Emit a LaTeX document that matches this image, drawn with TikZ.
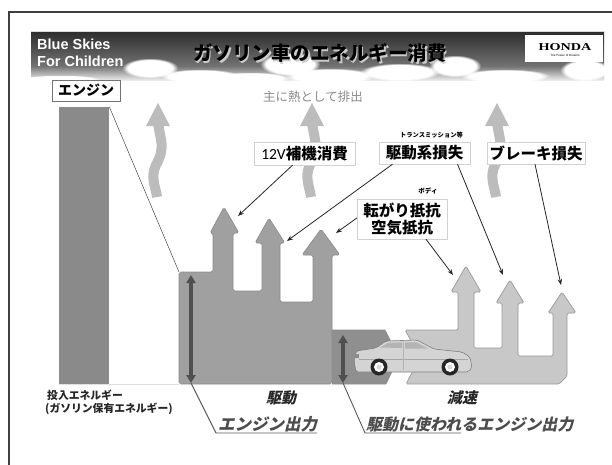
\documentclass[tikz,border=0pt]{standalone}
\usepackage{fontspec}
\setmainfont{Liberation Sans}
\newfontfamily\jp{Noto Sans CJK JP}
\newfontfamily\jpit[FakeSlant=0.22]{Noto Sans CJK JP}
\newfontfamily\lat{Carlito}
\newfontfamily\hondafont{Liberation Serif}
\usetikzlibrary{arrows.meta,calc,fadings}

\definecolor{hdrtop}{HTML}{2C2C2C}
\definecolor{hdrmid}{HTML}{727272}
\definecolor{enginec}{HTML}{8A8A8A}
\definecolor{drivec}{HTML}{A0A0A0}
\definecolor{driveln}{HTML}{8C8C8C}
\definecolor{drivex}{HTML}{8F8F8F}
\definecolor{decel}{HTML}{C8C8C8}
\definecolor{decelln}{HTML}{999999}
\definecolor{heatc}{HTML}{BCBCBC}
\definecolor{carbody}{HTML}{D4D4D4}
\definecolor{carwin}{HTML}{B4B4B4}
\definecolor{dblc}{HTML}{505050}

\tikzset{
  lblbox/.style={draw=black!18, fill=white, inner sep=0pt,
    font=\jp\bfseries\fontsize{15.5pt}{18pt}\selectfont},
  leader/.style={-{Stealth[length=6pt,width=4.5pt]}, line width=0.8pt, black!85},
  dblarrow/.style={{Triangle[length=8pt,width=9pt]}-{Triangle[length=8pt,width=9pt]},
    line width=3.2pt, dblc},
  outline/.style={line width=0.9pt, black!65},
  cloud/.style={fill=white, path fading=circle with fuzzy edge 20 percent},
}

% wavy heat-exhaust arrow, tip at (#1,103)
\newcommand\heatup[1]{%
  \begin{scope}[shift={(#1,0)}]
    \draw[heatc, line width=10pt] (0,122) .. controls (2,140) and (8,147) .. (-2,165)
      .. controls (-8,177) and (-2,188) .. (-1,197);
    \fill[heatc] (-12,126) -- (0,103) -- (12,126) -- cycle;
  \end{scope}}

\begin{document}
\begin{tikzpicture}[x=1pt,y=-1pt]
\useasboundingbox (0,0) rectangle (612,464);
\fill[white] (0,0) rectangle (612,464);

% frame
\draw[line width=1.3pt, black!75] (9,470) -- (9,12) -- (620,12);

% header band with sky
\shade[top color=hdrtop, bottom color=hdrmid] (31,31) rectangle (604,66);
\shade[top color=hdrmid, bottom color=white!92!black] (31,66) rectangle (604,80);
\foreach \cx/\cy/\rx/\ry in {150/68/28/10, 200/76/40/7, 290/64/30/12, 330/76/45/8,
    400/72/40/9, 455/66/26/11, 505/76/45/7, 585/70/25/11, 250/78/40/6, 60/79/40/4}
  \fill[cloud] (\cx,\cy) ellipse [x radius=\rx, y radius=\ry];
\draw[white!85!black, line width=0.8pt] (31,31) -- (604,31);

\node[anchor=west, text=white, font=\bfseries\fontsize{14.5pt}{15pt}\selectfont, inner sep=0]
  (bs1) at (37,44.5) {Blue Skies};
\node[anchor=west, text=white, font=\bfseries\fontsize{14.5pt}{15pt}\selectfont, inner sep=0]
  (bs2) at (37,61.5) {For Children};

\node[text=white!80!black, font=\jp\bfseries\fontsize{19.5pt}{21pt}\selectfont]
  (ttlsh) at (321.5,54.5) {ガソリン車のエネルギー消費};
\node[text=black, font=\jp\bfseries\fontsize{19.5pt}{21pt}\selectfont]
  (ttl) at (320,53) {ガソリン車のエネルギー消費};

\node[fill=white, minimum width=78pt, minimum height=27pt, inner sep=0] (hbox) at (564,48.5) {};
\node[font=\hondafont\bfseries\fontsize{10.5pt}{11pt}\selectfont, inner sep=0]
  (honda) at (565,47.5) {\scalebox{1.35}[1]{HONDA}};
\node[font=\fontsize{3pt}{3.5pt}\selectfont, inner sep=0] (hsub) at (565,55.5) {The Power of Dreams};

% engine label and input-energy bar
\node[draw=black!55, fill=white, minimum width=68pt, minimum height=21pt, inner sep=0,
  font=\jp\bfseries\fontsize{14pt}{16pt}\selectfont] (engl) at (86,90.5) {エンジン};
\node[fill=enginec, minimum width=50pt, minimum height=277pt, inner sep=0, anchor=north west]
  (ebar) at (59,107) {};

% heat exhaust
\node[text=black!45, font=\jp\fontsize{12.5pt}{14pt}\selectfont] (heat) at (313,96.5) {主に熱として排出};
\heatup{158}
\heatup{312}
\heatup{497}

% drive flow
\coordinate (drivetl) at (179,272);
\filldraw[fill=drivec, draw=driveln, line width=0.6pt, rounded corners=1.8pt]
  (179,384) -- (drivetl) -- (213,272) -- (213,233) -- (210,233) -- (224,207) -- (239,233)
  -- (233,233) -- (233,291) -- (262,291) -- (262,243) -- (255,243) -- (269,218) -- (285,243)
  -- (280,243) -- (280,302) -- (313,302) -- (313,255) -- (302,255) -- (321,229) -- (340,255)
  -- (332,255) -- (332,384) -- cycle;
\fill[drivex] (332,330) -- (385,330) -- (399,357) -- (386,384) -- (332,384) -- cycle;
\draw[driveln, line width=0.6pt] (332,330) -- (385,330) -- (399,357) -- (386,384) -- (332,384);

% deceleration flow
\filldraw[fill=decel, draw=decelln, line width=0.7pt, rounded corners=1.5pt]
  (405,330) -- (458,330) -- (458,292) -- (451,292) -- (466,266) -- (481,292) -- (474,292)
  -- (474,348) -- (502,348) -- (502,303) -- (496,303) -- (510,280) -- (524,303) -- (518,303)
  -- (518,356) -- (553,356) -- (553,313) -- (548,313) -- (562,292) -- (576,313) -- (567,313)
  -- (567,376) -- (559,384) -- (406,384) -- (420,357) -- cycle;

% base line
\draw[black!12, line width=0.8pt] (ebar.south west) -- (179,384.4);
\draw[thin, black!85] (ebar.north east) -- (drivetl);

% car
\filldraw[fill=carbody, draw=black!50, line width=0.6pt, rounded corners=2pt]
  (356,372) -- (354,360) -- (356,351) -- (376,348) -- (386,341) -- (417,340) -- (434,349)
  -- (462,352) -- (470,357) -- (472,368) -- (468,372) -- cycle;
\fill[carwin] (380,347.5) -- (388,342.8) -- (402,342.3) -- (402,348) -- cycle;
\fill[carwin] (405,342.3) -- (416,342.3) -- (428,348.5) -- (405,348.5) -- cycle;
\draw[black!35, line width=0.5pt] (359,359) -- (468,359);
\draw[black!30, line width=0.5pt] (403,342) -- (403,370);
\fill[black!45] (354.5,354) rectangle (359,357.5);
\foreach \wx in {379,450} {
  \fill[black!85] (\wx,367) circle (8.5);
  \fill[white] (\wx,367) circle (5);
  \fill[black!15] (\wx,367) circle (2.5);
}

% output markers
\coordinate (d1t) at (191,275); \coordinate (d1b) at (191,383);
\coordinate (d2t) at (343,335); \coordinate (d2b) at (343,383);
\draw[dblarrow] (d1t) -- (d1b);
\draw[dblarrow] (d2t) -- (d2b);

% loss labels
\node[lblbox, minimum width=101pt, minimum height=23pt] (l12) at (304.5,153.5)
  {{\lat\mdseries 12V}補機消費};
\node[lblbox, minimum width=91pt, minimum height=22pt] (ldl) at (424.5,153) {駆動系損失};
\node[lblbox, minimum width=98pt, minimum height=22pt] (lbr) at (536,153) {ブレーキ損失};
\node[lblbox, minimum width=90pt, minimum height=40pt, align=center,
  font=\jp\bfseries\fontsize{15.5pt}{16.5pt}\selectfont] (lra) at (402,219) {転がり抵抗\\空気抵抗};
\node[font=\jp\bfseries\fontsize{6.3pt}{7pt}\selectfont, inner sep=0] (tmx) at (431.5,135.5) {トランスミッション等};
\node[font=\jp\bfseries\fontsize{6.5pt}{7pt}\selectfont, inner sep=0] (bdy) at (428,191) {ボディ};

\coordinate (a1r) at (238,216);
\coordinate (a2r) at (287,241);
\coordinate (a3r) at (336,233);
\coordinate (a4l) at (453,275);
\coordinate (a5l) at (503,275);
\coordinate (a6t) at (561,285);
\draw[leader] ([xshift=-12pt]l12.south) -- (a1r);
\draw[leader] ([xshift=-32pt]ldl.south) -- (a2r);
\draw[leader] ([xshift=33pt]ldl.south) -- (a5l);
\draw[leader] ([xshift=-1pt]lbr.south) -- (a6t);
\draw[leader] ([yshift=1pt]lra.west) -- (a3r);
\draw[leader] ([xshift=24pt]lra.south) -- (a4l);

% bottom captions
\node[anchor=base west, inner sep=0, text=black!85,
  font=\jp\bfseries\fontsize{10.8pt}{12pt}\selectfont] (inE) at (47,399) {投入エネルギー};
\node[anchor=base west, inner sep=0, text=black!85,
  font=\jp\bfseries\fontsize{10.8pt}{12pt}\selectfont] (inE2) at (45,412) {(ガソリン保有エネルギー)};
\node[font=\jpit\bfseries\fontsize{15pt}{16pt}\selectfont, text=black!85] (drv) at (281,398) {駆動};
\node[font=\jpit\bfseries\fontsize{15pt}{16pt}\selectfont, text=black!85] (dec) at (462,398) {減速};

\node[anchor=base west, inner sep=0, text=black!70,
  font=\jpit\bfseries\fontsize{16.5pt}{18pt}\selectfont] (eo) at (218,430) {エンジン出力};
\node[anchor=base west, inner sep=0, text=black!70,
  font=\jpit\bfseries\fontsize{16pt}{18pt}\selectfont] (dwo) at (366,430) {駆動に使われるエンジン出力};
\coordinate (eoa) at (216,433); \coordinate (eob) at (317,433);
\coordinate (dwa) at (365,433); \coordinate (dwb) at (461,433);
\draw[outline] (d1b) -- (eoa) -- (eob);
\draw[outline] (d2b) -- (dwa) -- (dwb);
\end{tikzpicture}
\end{document}
